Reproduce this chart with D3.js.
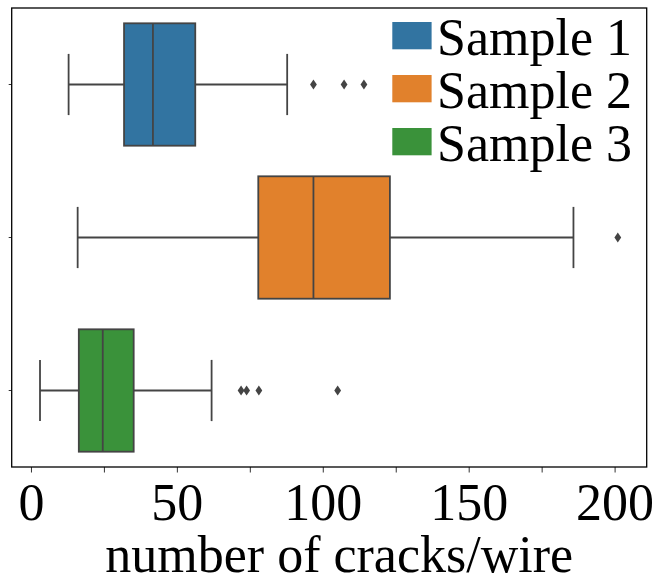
<!DOCTYPE html>
<html>
<head>
<meta charset="utf-8">
<script src="https://cdn.jsdelivr.net/npm/d3@7"></script>
<style>
  html, body { margin: 0; padding: 0; background: #fff; }
  svg { display: block; }
  text { font-family: "Liberation Serif", "Times New Roman", serif; fill: #000; }
</style>
</head>
<body>
<svg id="chart" width="659" height="582"></svg>
<script>
// ---- data ----
const categories = ["Sample 1", "Sample 2", "Sample 3"];
const colors = ["#3274a1", "#e1812c", "#3a923a"];
const whiskerLow = [12.9, 16.0, 3.1];
const q1 = [31.9, 77.9, 16.4];
const median = [41.8, 96.8, 24.6];
const q3 = [56.3, 123.0, 35.2];
const whiskerHigh = [87.8, 185.9, 61.9];
const outliers = [[96.8, 107.3, 114.1], [201.1], [72.0, 73.9, 78.1, 105.1]];
const xTicks = [0, 25, 50, 75, 100, 125, 150, 175, 200];
const xTickLabels = ["0", "", "50", "", "100", "", "150", "", "200"];
const xDomain = [-6.6, 211];
const xLabel = "number of cracks/wire";

// ---- layout ----
const svg = d3.select("#chart");
const L = 11.7, R = 646.7, T = 8, B = 467;
const x = d3.scaleLinear().domain(xDomain).range([L, R]);
const y = d3.scaleBand().domain(categories).range([T, B]).paddingInner(0).paddingOuter(0);
const band = y.bandwidth();
const boxH = band * 0.8;
const capH = boxH / 2;
const lineColor = "#444444";

const data = categories.map((c, i) => ({
  cat: c, color: colors[i], lo: whiskerLow[i], q1: q1[i], med: median[i],
  q3: q3[i], hi: whiskerHigh[i], out: outliers[i]
}));

const g = svg.append("g");
data.forEach(d => {
  const cy = y(d.cat) + band / 2;
  const gg = g.append("g");
  // whiskers
  gg.append("line").attr("x1", x(d.lo)).attr("x2", x(d.q1)).attr("y1", cy).attr("y2", cy)
    .attr("stroke", lineColor).attr("stroke-width", 1.8);
  gg.append("line").attr("x1", x(d.q3)).attr("x2", x(d.hi)).attr("y1", cy).attr("y2", cy)
    .attr("stroke", lineColor).attr("stroke-width", 1.8);
  // caps
  [d.lo, d.hi].forEach(v => {
    gg.append("line").attr("x1", x(v)).attr("x2", x(v))
      .attr("y1", cy - capH / 2).attr("y2", cy + capH / 2)
      .attr("stroke", lineColor).attr("stroke-width", 1.8);
  });
  // box
  gg.append("rect").attr("x", x(d.q1)).attr("y", cy - boxH / 2)
    .attr("width", x(d.q3) - x(d.q1)).attr("height", boxH)
    .attr("fill", d.color).attr("stroke", lineColor).attr("stroke-width", 1.8);
  // median
  gg.append("line").attr("x1", x(d.med)).attr("x2", x(d.med))
    .attr("y1", cy - boxH / 2).attr("y2", cy + boxH / 2)
    .attr("stroke", lineColor).attr("stroke-width", 1.8);
  // outliers (diamonds)
  const diamond = "M0,-5 L3.4,0 L0,5 L-3.4,0 Z";
  d.out.forEach(v => {
    gg.append("path").attr("d", diamond)
      .attr("transform", `translate(${x(v)},${cy})`)
      .attr("fill", lineColor).attr("stroke", "none");
  });
});

// ---- axes ----
const xAxis = d3.axisBottom(x).tickValues(xTicks)
  .tickFormat((d, i) => xTickLabels[i]).tickSize(5.5).tickPadding(8);
const gx = svg.append("g").attr("transform", `translate(0,${B})`).call(xAxis);
gx.select(".domain").remove();
gx.selectAll(".tick line").attr("stroke", "#333").attr("stroke-width", 1);
gx.selectAll(".tick text").attr("font-size", 52)
  .attr("fill", "#000").attr("dy", null).attr("y", 53);

const yAxis = d3.axisLeft(y).tickSize(3).tickFormat("");
const gy = svg.append("g").attr("transform", `translate(${L},0)`).call(yAxis);
gy.select(".domain").remove();
gy.selectAll(".tick line").attr("stroke", "#333").attr("stroke-width", 1);

// frame
svg.append("rect").attr("x", L).attr("y", T).attr("width", R - L).attr("height", B - T)
  .attr("fill", "none").attr("stroke", "#000").attr("stroke-width", 1.3);

// x label
svg.append("text").attr("x", (L + R) / 2 + 10).attr("y", 572)
  .attr("text-anchor", "middle").attr("font-size", 52).text(xLabel);

// ---- legend ----
const leg = svg.append("g");
categories.forEach((c, i) => {
  const row = leg.append("g").attr("transform", `translate(0,${i * 53})`);
  row.append("rect").attr("x", 392.3).attr("y", 22).attr("width", 39.3).attr("height", 27.3)
    .attr("fill", colors[i]);
  row.append("text").attr("x", 437).attr("y", 55).attr("font-size", 52).text(c);
});
</script>
</body>
</html>
